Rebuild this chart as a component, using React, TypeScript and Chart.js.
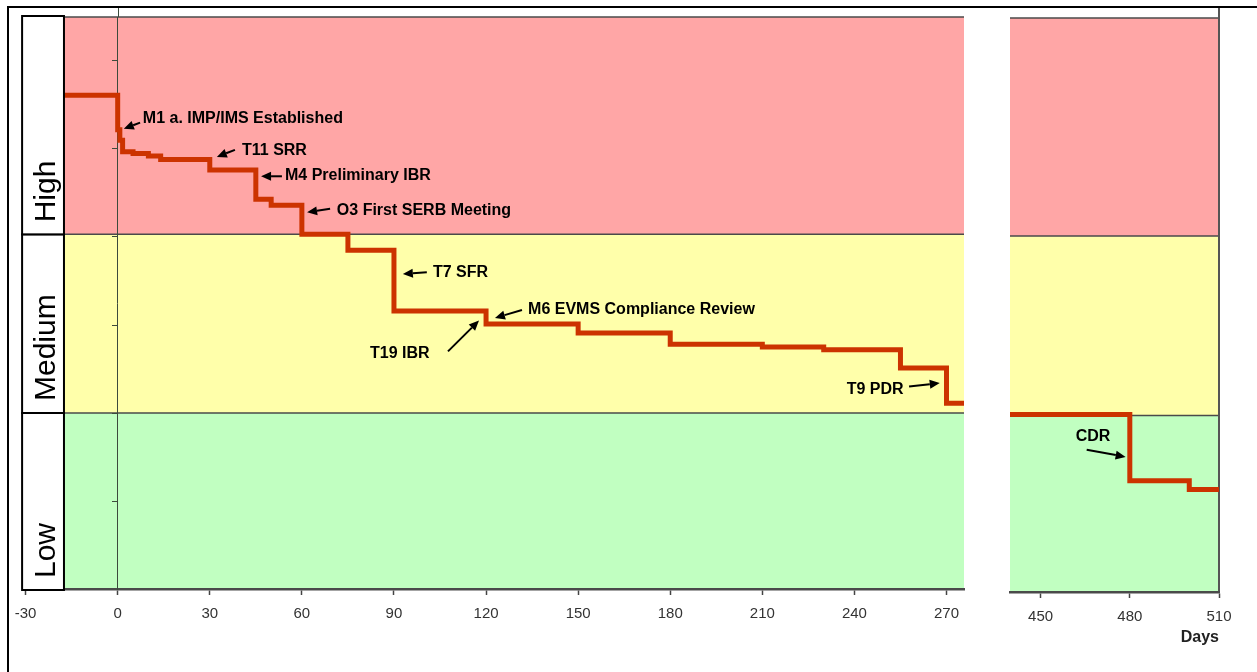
import React, { useEffect, useRef } from "react";
import { Chart, registerables } from "chart.js";

Chart.register(...registerables);

// ---- Risk bands (value axis) ----
const bandNames = ["Low", "Medium", "High"];
const bandLows = [0, 2, 4.03];
const bandHighs = [2, 4.03, 6.5];
const bandColors = ["#c1ffc1", "#ffffaa", "#ffa6a6"];
const yTicks = [0, 1, 2, 3, 4, 5, 6];

// ---- Day axis, broken into two panels ----
const leftTicks = [-30, 0, 30, 60, 90, 120, 150, 180, 210, 240, 270];
const rightTicks = [450, 480, 510];
const leftRange = [-30, 275.7];
const rightRange = [439.7, 510];
const plotStart = -17.5; // where the coloured area begins behind the label boxes

// ---- Risk burn-down series ----
const leftDays = [-30, 0, 0.7, 1.6, 5, 10, 14, 30, 45, 50, 60, 75, 90, 120, 150, 180, 210, 230, 255, 270, 276];
const leftRisk = [5.61, 5.22, 5.1, 4.97, 4.95, 4.92, 4.88, 4.76, 4.43, 4.36, 4.03, 3.85, 3.16, 3.01, 2.91, 2.78, 2.75, 2.72, 2.51, 2.11, 2.11];
const rightDays = [438, 480, 500, 511];
const rightRisk = [2.01, 1.26, 1.16, 1.16];

// ---- Milestone notes ----
const noteTexts = [
  "M1 a. IMP/IMS Established",
  "T11 SRR",
  "M4 Preliminary IBR",
  "O3 First SERB Meeting",
  "T7 SFR",
  "M6 EVMS Compliance Review",
  "T19 IBR",
  "T9 PDR",
  "CDR",
];
const noteDays = [8.2, 40.5, 54.5, 71.4, 102.7, 133.7, 82.2, 237.5, 461.8];
const noteRisk = [5.35, 4.98, 4.7, 4.3, 3.59, 3.17, 2.68, 2.27, 1.76];
const arrowFromDay = [7.3, 38.2, 53.5, 69.2, 100.7, 131.7, 107.6, 257.8, 465.5];
const arrowFromRisk = [5.3, 4.99, 4.69, 4.32, 3.6, 3.17, 2.7, 2.3, 1.61];
const arrowToDay = [2.0, 32.3, 46.7, 61.7, 92.9, 122.9, 117.7, 267.8, 478.6];
const arrowToRisk = [5.23, 4.91, 4.69, 4.28, 3.58, 3.08, 3.05, 2.34, 1.53];

const LINE_COLOR = "#cc3300";
const FONT = "'Liberation Sans', Arial, sans-serif";

function makePlugin(isLeft: boolean) {
  return {
    id: "panel" + (isLeft ? "L" : "R"),
    beforeDraw(chart: any) {
      const { ctx, chartArea: a, scales } = chart;
      const x = scales.x;
      const y = scales.y;
      ctx.save();
      for (let i = 0; i < bandLows.length; i++) {
        const top = y.getPixelForValue(bandHighs[i]);
        const bot = y.getPixelForValue(bandLows[i]);
        ctx.fillStyle = bandColors[i];
        ctx.fillRect(a.left, top, a.right - a.left, bot - top);
      }
      ctx.strokeStyle = "#4a4a4a";
      ctx.lineWidth = 1.5;
      const lines = [bandHighs[2], bandLows[2], bandLows[1]];
      lines.forEach((v) => {
        const py = y.getPixelForValue(v);
        ctx.beginPath();
        ctx.moveTo(a.left, py);
        ctx.lineTo(a.right, py);
        ctx.stroke();
      });
      if (!isLeft) {
        ctx.strokeStyle = "#555";
        ctx.lineWidth = 2;
        ctx.beginPath();
        ctx.moveTo(a.right, a.top - 10);
        ctx.lineTo(a.right, a.bottom);
        ctx.stroke();
      } else {
        const px = Math.round(x.getPixelForValue(0)) + 0.5;
        ctx.strokeStyle = "#3c4a3c";
        ctx.lineWidth = 1;
        ctx.beginPath();
        ctx.moveTo(px, 8);
        ctx.lineTo(px, a.top);
        ctx.stroke();
      }
      ctx.restore();
    },
    afterDatasetsDraw(chart: any) {
      const { ctx, chartArea: a, scales } = chart;
      const x = scales.x;
      const y = scales.y;
      ctx.save();
      // notes with arrows
      for (let i = 0; i < noteTexts.length; i++) {
        if (noteDays[i] < x.min - 40 || noteDays[i] > x.max) continue;
        ctx.fillStyle = "#000";
        ctx.font = "bold 16px " + FONT;
        ctx.textAlign = "left";
        ctx.textBaseline = "middle";
        ctx.fillText(noteTexts[i], x.getPixelForValue(noteDays[i]), y.getPixelForValue(noteRisk[i]));
        const x1 = x.getPixelForValue(arrowFromDay[i]);
        const y1 = y.getPixelForValue(arrowFromRisk[i]);
        const x2 = x.getPixelForValue(arrowToDay[i]);
        const y2 = y.getPixelForValue(arrowToRisk[i]);
        const ang = Math.atan2(y2 - y1, x2 - x1);
        const hl = 10;
        const hw = 4.5;
        const bx = x2 - hl * Math.cos(ang);
        const by = y2 - hl * Math.sin(ang);
        ctx.strokeStyle = "#000";
        ctx.lineWidth = 2;
        ctx.beginPath();
        ctx.moveTo(x1, y1);
        ctx.lineTo(bx, by);
        ctx.stroke();
        ctx.beginPath();
        ctx.moveTo(x2, y2);
        ctx.lineTo(bx + hw * Math.sin(ang), by - hw * Math.cos(ang));
        ctx.lineTo(bx - hw * Math.sin(ang), by + hw * Math.cos(ang));
        ctx.closePath();
        ctx.fill();
      }
      // level label boxes
      if (isLeft) {
        const left = a.left - 3.5;
        const right = x.getPixelForValue(plotStart);
        for (let i = 0; i < bandNames.length; i++) {
          const top = y.getPixelForValue(bandHighs[i]) - (i === 2 ? 1 : 0);
          const bot = y.getPixelForValue(bandLows[i]) + (i === 0 ? 1 : 0);
          ctx.fillStyle = "#fff";
          ctx.fillRect(left, top, right - left, bot - top);
          ctx.strokeStyle = "#000";
          ctx.lineWidth = 2;
          ctx.strokeRect(left, top, right - left, bot - top);
          ctx.save();
          ctx.translate(right - 9, bot - 12);
          ctx.rotate(-Math.PI / 2);
          ctx.fillStyle = "#000";
          ctx.font = "30px " + FONT;
          ctx.textAlign = "left";
          ctx.textBaseline = "alphabetic";
          ctx.fillText(bandNames[i], 0, 0);
          ctx.restore();
        }
      }
      ctx.restore();
    },
  };
}

function buildChart(canvas: HTMLCanvasElement, isLeft: boolean) {
  const days = isLeft ? leftDays : rightDays;
  const risk = isLeft ? leftRisk : rightRisk;
  const range = isLeft ? leftRange : rightRange;
  const ticks = isLeft ? leftTicks : rightTicks;
  const axisH = isLeft ? 71 : 68;
  return new Chart(canvas, {
    type: "line",
    data: {
      datasets: [
        {
          data: days.map((d, i) => ({ x: d, y: risk[i] })),
          stepped: "before",
          borderColor: LINE_COLOR,
          borderWidth: 5,
          pointRadius: 0,
          fill: false,
        },
      ],
    },
    options: {
      animation: false,
      responsive: false,
      devicePixelRatio: 1,
      layout: {
        padding: isLeft
          ? { left: 25.6, right: 11, top: 17, bottom: 0 }
          : { left: 25, right: 38, top: 18, bottom: 0 },
      },
      plugins: {
        legend: { display: false },
        tooltip: { enabled: false },
      },
      scales: {
        x: {
          type: "linear",
          min: range[0],
          max: range[1],
          position: "bottom",
          afterBuildTicks: (s: any) => {
            s.ticks = ticks.map((v) => ({ value: v }));
          },
          afterFit: (s: any) => {
            s.height = axisH;
          },
          grid: { drawOnChartArea: false, tickLength: 6, color: "#444", tickWidth: 1.5 },
          border: { color: "#4a4a4a", width: 2.5 },
          ticks: {
            autoSkip: false,
            maxRotation: 0,
            padding: 10,
            color: "#333",
            font: { family: FONT, size: 15 },
          },
          title: isLeft
            ? { display: false }
            : {
                display: true,
                text: "Days",
                align: "end",
                color: "#222",
                font: { family: FONT, size: 16, weight: "bold" },
                padding: { top: 2, bottom: 13 },
              },
        },
        y: isLeft
          ? {
              type: "linear",
              min: 0,
              max: 6.5,
              position: { x: 0 },
              afterBuildTicks: (s: any) => {
                s.ticks = yTicks.map((v) => ({ value: v }));
              },
              grid: { drawOnChartArea: false, tickLength: 5, color: "#3c4a3c" },
              border: { color: "#3c4a3c", width: 1 },
              ticks: { display: false },
            }
          : { type: "linear", min: 0, max: 6.5, display: false },
      },
    },
    plugins: [makePlugin(isLeft)],
  } as any);
}

export default function App() {
  const leftRef = useRef<HTMLCanvasElement>(null);
  const rightRef = useRef<HTMLCanvasElement>(null);
  useEffect(() => {
    const c1 = buildChart(leftRef.current!, true);
    const c2 = buildChart(rightRef.current!, false);
    return () => {
      c1.destroy();
      c2.destroy();
    };
  }, []);
  return (
    <div style={{ position: "fixed", left: 0, top: 0, width: 1257, height: 672, overflow: "hidden", background: "#fff" }}>
      <div
        style={{
          position: "absolute",
          left: 7,
          top: 6,
          width: 1400,
          height: 800,
          borderTop: "2px solid #000",
          borderLeft: "2px solid #000",
        }}
      />
      <canvas ref={leftRef} width={975} height={660} style={{ position: "absolute", left: 0, top: 0 }} />
      <canvas ref={rightRef} width={272} height={660} style={{ position: "absolute", left: 985, top: 0 }} />
    </div>
  );
}
